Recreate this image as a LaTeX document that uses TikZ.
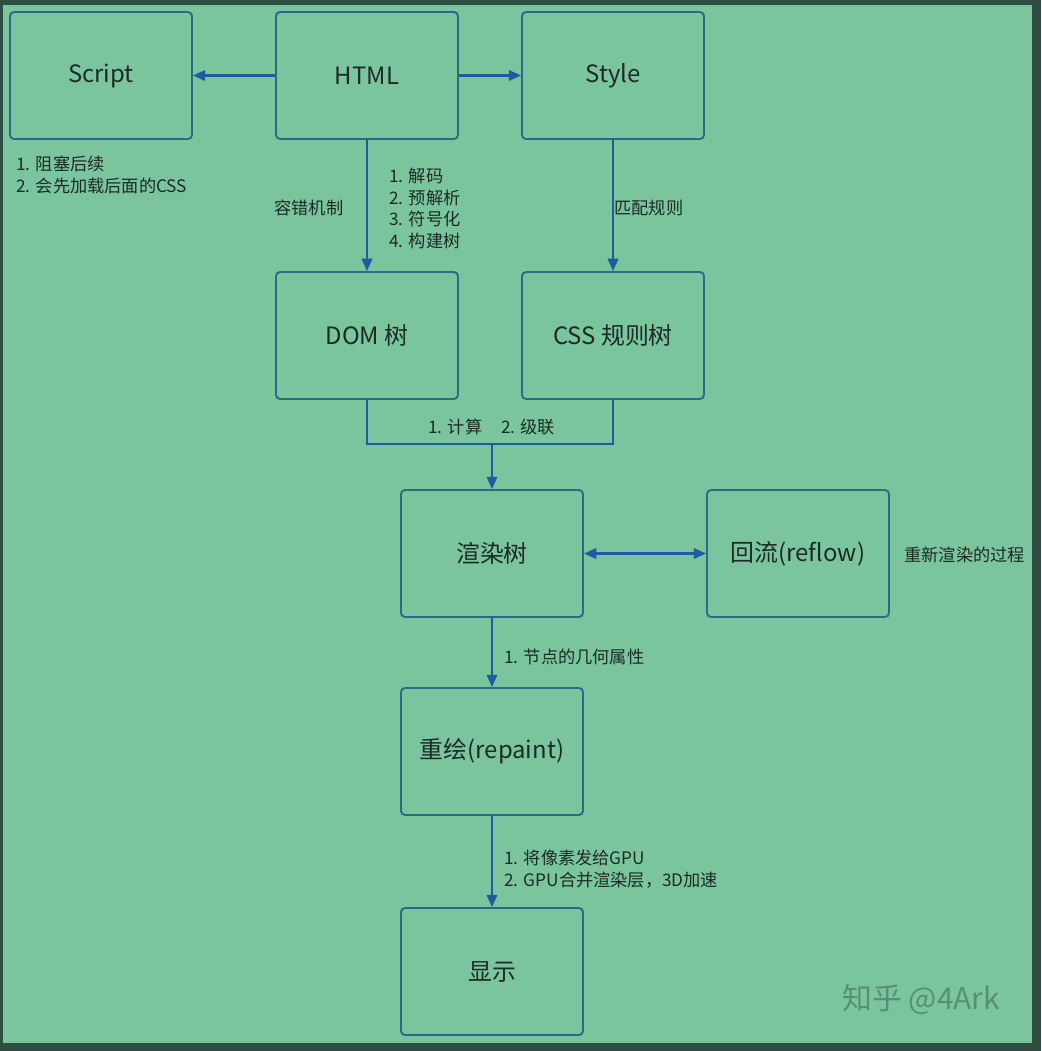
\documentclass[tikz,border=0pt]{standalone}
\usepackage{fontspec}
\setmainfont{Noto Sans CJK SC}
\usetikzlibrary{arrows.meta,positioning}
\definecolor{bggreen}{HTML}{7AC59E}
\definecolor{frame}{HTML}{2F4D42}
\definecolor{boxline}{HTML}{2A6B86}
\definecolor{arrowblue}{HTML}{1D5C9E}
\definecolor{inktext}{HTML}{1C2B25}
\definecolor{markgray}{HTML}{578F74}
\tikzset{
  stagebox/.style={rectangle,rounded corners=2.3pt,draw=boxline,line width=1.1pt,
    minimum width=3.64cm,minimum height=2.54cm,align=center,inner sep=2pt,
    text=inktext,font=\fontsize{13.6pt}{16pt}\selectfont},
  notetext/.style={anchor=west,align=left,inner sep=0pt,text=inktext,
    font=\fontsize{9.8pt}{12.2pt}\selectfont},
  arrow/.style={-{Triangle[length=7pt,width=6pt]},line width=1.2pt,draw=arrowblue},
  darrow/.style={{Triangle[length=7pt,width=6pt]}-{Triangle[length=7pt,width=6pt]},line width=1.2pt,draw=arrowblue},
  joinline/.style={line width=1.2pt,draw=arrowblue},
}

\begin{document}
\begin{tikzpicture}[x=0.02cm,y=-0.02cm]
  % frame and background
  \fill[frame] (0,0) rectangle (1041,1051);
  \fill[bggreen] (3,5) rectangle (1032,1043);
  \useasboundingbox (0,0) rectangle (1041,1051);

  % boxes
  \node[stagebox] (script)  at (101,75.5)  {Script};
  \node[stagebox] (html)    at (367,75.5)  {HTML};
  \node[stagebox] (style)   at (613,75.5)  {Style};
  \node[stagebox] (dom)     at (367,335.5) {DOM 树};
  \node[stagebox] (cssom)   at (613,335.5) {CSS 规则树};
  \node[stagebox] (render)  at (492,553.5) {渲染树};
  \node[stagebox] (reflow)  at (798,553.5) {回流(reflow)};
  \node[stagebox] (repaint) at (492,751.5) {重绘(repaint)};
  \node[stagebox] (display) at (492,971.5) {显示};

  % connectors
  \draw[arrow] (html.west) -- (script.east);
  \draw[arrow] (html.east) -- (style.west);
  \draw[arrow] (html.south) -- (dom.north);
  \draw[arrow] (style.south) -- (cssom.north);
  \coordinate (join) at (492,444);
  \draw[joinline] (dom.south) |- (join) -| (cssom.south);
  \draw[arrow] (join) -- (render.north);
  \draw[darrow] (render.east) -- (reflow.west);
  \draw[arrow] (render.south) -- (repaint.north);
  \draw[arrow] (repaint.south) -- (display.north);

  % notes
  \node[notetext] (scriptnote) at (16,175) {1. 阻塞后续\\2. 会先加载后面的CSS};
  \node[notetext] (faultnote) at (274,208) {容错机制};
  \node[notetext] (parsenote) at (389,208.5) {1. 解码\\2. 预解析\\3. 符号化\\4. 构建树};
  \node[notetext] (matchnote) at (614,208) {匹配规则};
  \node[notetext] (cascadenote) at (428,427) {1. 计算\hspace{1.1em}2. 级联};
  \node[notetext] (reflownote) at (904,555) {重新渲染的过程};
  \node[notetext] (geomnote) at (504,657) {1. 节点的几何属性};
  \node[notetext] (gpunote) at (504,869) {1. 将像素发给GPU\\2. GPU合并渲染层，3D加速};

  % watermark
  \node[anchor=west,inner sep=0pt,text=markgray,font=\fontsize{17pt}{20pt}\selectfont] (mark) at (842,1000) {知乎 @4Ark};
\end{tikzpicture}
\end{document}
